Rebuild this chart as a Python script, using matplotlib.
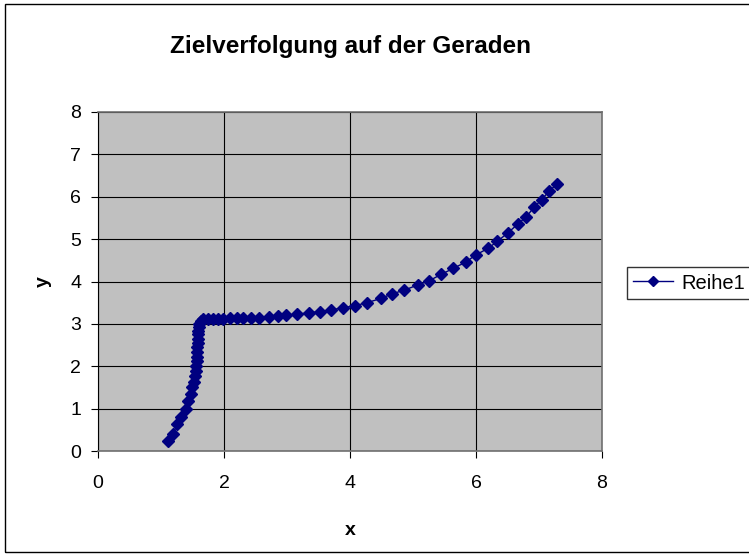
import numpy as np
import matplotlib
matplotlib.use("Agg")
import matplotlib.pyplot as plt
from matplotlib.patches import Rectangle

plt.rcParams['font.family'] = ['Liberation Sans', 'DejaVu Sans']

# pursuit curve
x_vals = [1.11, 1.19, 1.26, 1.31, 1.39, 1.43, 1.47, 1.49, 1.52, 1.54, 1.55, 1.56,
          1.565, 1.57, 1.57, 1.575, 1.58, 1.58, 1.585, 1.59, 1.60, 1.61, 1.63,
          1.67, 1.75, 1.83, 1.91, 1.98, 2.09, 2.20, 2.30, 2.43, 2.56, 2.71, 2.85,
          2.99, 3.16, 3.35, 3.52, 3.70, 3.89, 4.08, 4.27, 4.49, 4.67, 4.85, 5.08,
          5.26, 5.45, 5.64, 5.84, 6.00, 6.19, 6.34, 6.50, 6.66, 6.80, 6.92, 7.04,
          7.16, 7.29]
y_vals = [0.23, 0.41, 0.63, 0.80, 1.00, 1.18, 1.35, 1.50, 1.64, 1.77, 1.89, 2.01,
          2.12, 2.23, 2.34, 2.45, 2.55, 2.65, 2.75, 2.84, 2.92, 2.99, 3.06,
          3.12, 3.12, 3.12, 3.12, 3.12, 3.13, 3.13, 3.14, 3.15, 3.15, 3.16, 3.19,
          3.20, 3.23, 3.26, 3.29, 3.33, 3.38, 3.43, 3.50, 3.60, 3.71, 3.79, 3.92,
          4.02, 4.17, 4.31, 4.46, 4.63, 4.78, 4.95, 5.14, 5.35, 5.53, 5.75, 5.93,
          6.13, 6.31]

W, H = 749, 556
fig = plt.figure(figsize=(W / 100, H / 100), dpi=100)
fig.patches.append(Rectangle((5 / W, 4 / H), 1.0, 1 - 8 / H, transform=fig.transFigure,
                             fill=False, edgecolor='black', linewidth=1.0))

ax = fig.add_axes([98 / W, 1 - 451 / H, (602 - 98) / W, (451 - 112) / H])
ax.set_facecolor('#C0C0C0')
ax.plot(x_vals, y_vals, color='#000080', linewidth=1, marker='D', markersize=6.3,
        markerfacecolor='#000080', markeredgecolor='#000080', label='Reihe1')

ax.set_xlim(0, 8)
ax.set_ylim(0, 8)
ax.set_xticks(np.arange(0, 9, 2))
ax.set_yticks(np.arange(0, 9, 1))
ax.grid(True, color='black', linewidth=0.8)
ax.set_axisbelow(True)
ax.tick_params(direction='out', length=5, width=0.8, labelsize=14)
ax.tick_params(axis='x', pad=12)
ax.tick_params(axis='y', pad=7)
for s in ['top', 'right', 'bottom']:
    ax.spines[s].set_color('#707070')
    ax.spines[s].set_linewidth(1.2)
ax.spines['left'].set_color('black')

ax.set_xlabel('x', fontsize=14, fontweight='bold', labelpad=22)
ax.set_ylabel('y', fontsize=14, fontweight='bold', labelpad=13, rotation=90)

fig.text(350 / W, 1 - 46 / H, 'Zielverfolgung auf der Geraden', fontsize=17.5,
         fontweight='bold', ha='center', va='center')

leg = fig.legend(loc='center left', bbox_to_anchor=(627 / W, 1 - 283 / H), fontsize=14.5,
                 frameon=True, fancybox=False, edgecolor='black', handlelength=2.0,
                 handletextpad=0.4, borderaxespad=0, borderpad=0.3, markerscale=0.8)
leg.get_frame().set_linewidth(1.0)

fig.savefig('out.png', dpi=100)
